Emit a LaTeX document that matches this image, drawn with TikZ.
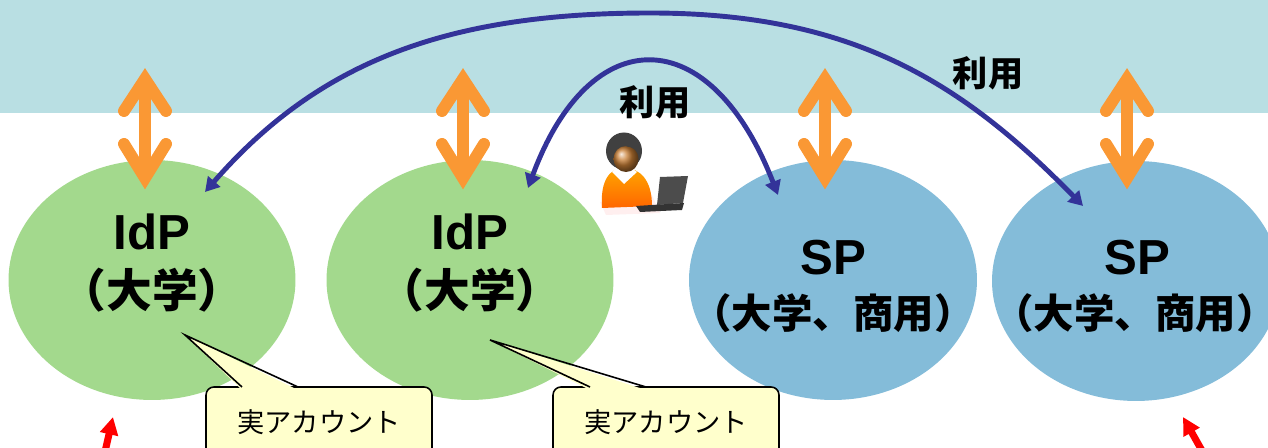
\documentclass[tikz,border=0pt]{standalone}
\usepackage{fontspec}
\setmainfont{Liberation Sans}
\newfontfamily\jp{Noto Sans CJK JP}
\usetikzlibrary{shapes.geometric,arrows.meta,calc}

\definecolor{bandblue}{RGB}{185,223,227}
\definecolor{idpgreen}{RGB}{163,217,141}
\definecolor{spblue}{RGB}{132,188,217}
\definecolor{updown}{RGB}{250,152,52}
\definecolor{useblue}{RGB}{51,51,153}
\definecolor{noteyellow}{RGB}{255,255,204}

\tikzset{
  idp/.style={ellipse, fill=idpgreen, inner sep=0, minimum width=5.74cm, minimum height=4.8cm},
  sp/.style={ellipse, fill=spblue, inner sep=0, minimum width=5.76cm, minimum height=4.8cm},
  title/.style={font=\bfseries\fontsize{28}{30}\selectfont, inner sep=0},
  sub/.style={font=\jp\bfseries\fontsize{23}{25}\selectfont, inner sep=0},
  use/.style={font=\jp\bfseries\fontsize{20}{22}\selectfont, inner sep=0},
  note/.style={rectangle, rounded corners=4.5pt, draw=black, line width=0.9pt, fill=noteyellow,
    minimum width=4.52cm, minimum height=1.4cm, font=\jp\fontsize{15.5}{17}\selectfont},
  usearrow/.style={draw=useblue, line width=2.8pt, {Triangle[length=8pt,width=9pt]}-{Triangle[length=8pt,width=9pt]}},
  redarrow/.style={draw=red, line width=4pt, -{Triangle[length=10pt,width=10pt]}}
}

% double arrow between the band and a provider: \vertarrow{x}
\def\vertarrow#1{
  \draw[updown, line width=6.8pt] (#1, 80) -- (#1, 178);
  \draw[updown, line width=6.8pt, line cap=round, miter limit=20] (#1-21, 111) -- (#1, 79) -- (#1+21, 111);
  \draw[updown, line width=6.8pt, line cap=round, miter limit=20] (#1-21, 144) -- (#1, 178) -- (#1+21, 144);
}

% callout pointer: \notetip(left)(tip)(right)
\def\notetip(#1)(#2)(#3){
  \fill[noteyellow] ($(#1)+(0,3)$) -- (#2) -- ($(#3)+(0,3)$) -- cycle;
  \draw[line width=0.9pt, line join=miter] (#1) -- (#2) -- (#3);
}

\begin{document}
\begin{tikzpicture}[x=0.02cm, y=-0.02cm]
  %%%%% START %%%%%
  \useasboundingbox (0,0) rectangle (1268,448);
  \clip (0,0) rectangle (1268,448);

  \fill[bandblue] (0,0) rectangle (1268,113);

  % providers
  \node[idp] (idp1) at (152,280) {};
  \node[idp] (idp2) at (470,280) {};
  \node[sp] (sp1) at (833,280) {};
  \node[sp] (sp2) at (1136,281) {};

  \node[title] (idp1t) at (152,232) {IdP};
  \node[sub, font=\jp\bfseries\fontsize{26}{28}\selectfont] (idp1s) at (152,290) {（大学）};
  \node[title] (idp2t) at (470,232) {IdP};
  \node[sub, font=\jp\bfseries\fontsize{26}{28}\selectfont] (idp2s) at (470,290) {（大学）};
  \node[title] (sp1t) at (833,258) {SP};
  \node[sub] (sp1s) at (833,313) {（大学、商用）};
  \node[title] (sp2t) at (1137,258) {SP};
  \node[sub, inner xsep=-5pt] (sp2s) at (1135,313) {（大学、商用）};

  \vertarrow{145}
  \vertarrow{463}
  \vertarrow{825}
  \vertarrow{1127}

  % user at a laptop
  \fill[pink!25] (600,202) -- (652,195) -- (660,213) -- (606,215) -- cycle;
  \shade[top color=orange!70!yellow, bottom color=orange!80!red] (602,208) .. controls (600,180) and (610,168) .. (624,168)
    .. controls (640,168) and (652,180) .. (652,206) -- cycle;
  \fill[white] (612,172) -- (624,184) -- (637,172) -- (630,167) -- (618,167) -- cycle;
  \fill[black!75] (624,151) ellipse [x radius=0.36cm, y radius=0.37cm];
  \shade[ball color=brown!85!orange] (626,159) ellipse [x radius=0.25cm, y radius=0.26cm];
  \fill[black!75] (610,148) .. controls (612,138) and (620,136) .. (628,137)
    .. controls (636,138) and (640,144) .. (638,152) .. controls (632,145) and (620,145) .. (610,148) -- cycle;
  \fill[black!70] (660,177) -- (688,176) -- (683,203) -- (657,205) -- cycle;
  \fill[black!80] (636,206) -- (684,203) -- (682,210) -- (640,212) -- cycle;

  \coordinate (idp1in) at (205,192);
  \coordinate (idp2in) at (528,188);
  \coordinate (sp1in) at (778,195);
  \coordinate (sp2in) at (1083,206);

  \draw[usearrow] (idp1in) .. controls (320,60) and (450,13) .. (650,13)
    .. controls (850,13) and (960,80) .. (sp2in);
  \draw[usearrow] (idp2in) .. controls (590,20) and (710,20) .. (sp1in);
  \node[use] (use1) at (655,102) {利用};
  \node[use] (use2) at (988,73) {利用};

  % real accounts
  \node[note] (acct1) at (319,422) {実アカウント};
  \notetip(242,387)(185,335)(298,387)
  \node[note] (acct2) at (666,422) {実アカウント};
  \notetip(590,387)(490,340)(646,387)

  \draw[redarrow] (104,456) -- (113,417);
  \draw[redarrow] (1205,456) -- (1183,417);
  %%%%% END %%%%%
\end{tikzpicture}
\end{document}
